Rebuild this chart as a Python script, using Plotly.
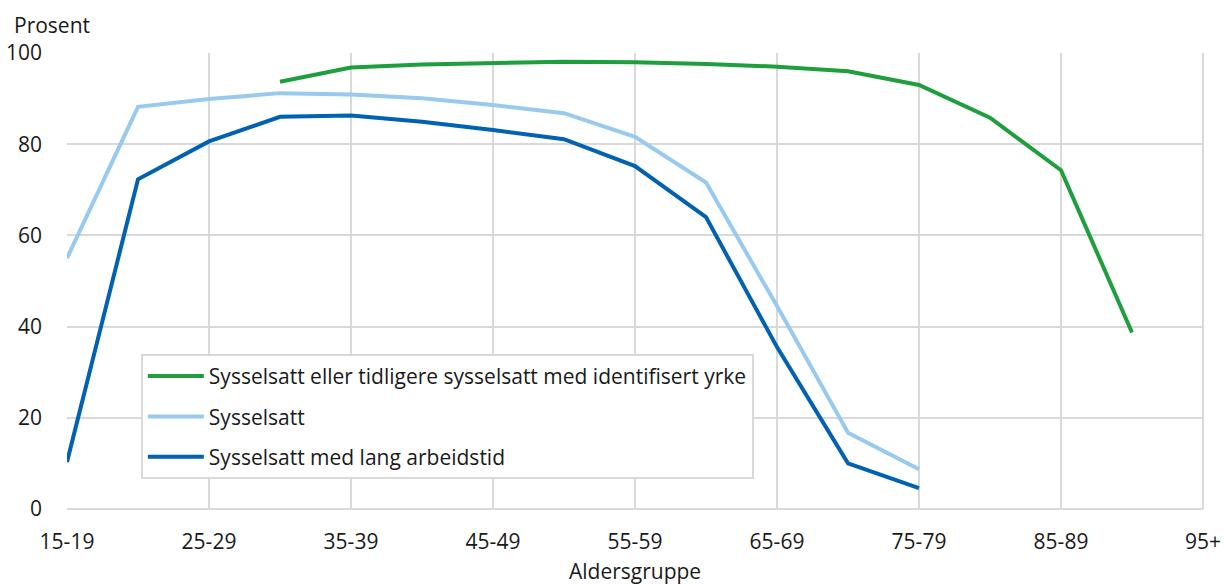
import plotly.graph_objects as go

aldersgrupper = ['15-19', '20-24', '25-29', '30-34', '35-39', '40-44', '45-49', '50-54',
                 '55-59', '60-64', '65-69', '70-74', '75-79', '80-84', '85-89', '90-94', '95+']
vis_ticks = ['15-19', '25-29', '35-39', '45-49', '55-59', '65-69', '75-79', '85-89', '95+']

# andel i prosent, None der serien mangler
yrke = [None, None, None, 93.7, 96.8, 97.5, 97.9, 98.1, 97.95, 97.6, 97.0, 96.0, 93.0,
        85.8, 74.3, 38.7, None]
sysselsatt = [55.0, 88.2, 89.9, 91.2, 90.9, 90.1, 88.6, 86.8, 81.6, 71.6, 44.5, 16.7, 8.7,
              None, None, None, None]
lang_arbeidstid = [10.3, 72.3, 80.6, 86.0, 86.3, 84.9, 83.1, 81.1, 75.2, 64.0, 35.5, 10.0, 4.6,
                   None, None, None, None]

grid = '#d9d9d9'
fnt = 'Open Sans'

fig = go.Figure()
fig.add_trace(go.Scatter(x=aldersgrupper, y=yrke, mode='lines', legendgroup='a',
                         name='Sysselsatt eller tidligere sysselsatt med identifisert yrke',
                         line=dict(color='#1f9e3d', width=4)))
fig.add_trace(go.Scatter(x=aldersgrupper, y=sysselsatt, mode='lines', legendgroup='b',
                         name='Sysselsatt', line=dict(color='#98c9ef', width=4)))
fig.add_trace(go.Scatter(x=aldersgrupper, y=lang_arbeidstid, mode='lines', legendgroup='c',
                         name='Sysselsatt med lang arbeidstid', line=dict(color='#0062b1', width=4)))

fig.update_layout(
    width=1225, height=585,
    margin=dict(l=67, r=22, t=53, b=76, autoexpand=False),
    plot_bgcolor='white', paper_bgcolor='white',
    font=dict(family=fnt, size=21, color='#1a1a1a'),
    legend=dict(x=0.065, y=0.34, xanchor='left', yanchor='top',
                bordercolor=grid, borderwidth=2, bgcolor='white',
                font=dict(size=21), tracegroupgap=10, itemwidth=56),
    xaxis=dict(type='category', categoryorder='array', categoryarray=aldersgrupper,
               range=[0, 16], tickvals=vis_ticks, ticktext=vis_ticks, automargin=False,
               showgrid=True, gridcolor=grid, gridwidth=2, ticks='', ticklabelstandoff=18,
               showline=False, zeroline=False),
    yaxis=dict(range=[0, 100], dtick=20, showgrid=True, gridcolor=grid, gridwidth=2,
               zeroline=True, zerolinecolor=grid, zerolinewidth=2, ticks='',
               ticklabelstandoff=24, automargin=False),
    annotations=[
        dict(text='Prosent', xref='paper', yref='paper', x=-0.0484, y=1.061,
             xanchor='left', yanchor='middle', showarrow=False, font=dict(size=21)),
        dict(text='Aldersgruppe', xref='paper', yref='paper', x=0.5, y=-0.137,
             xanchor='center', yanchor='middle', showarrow=False, font=dict(size=21)),
    ],
)
fig.add_shape(type='line', xref='paper', yref='paper', x0=1, x1=1, y0=0, y1=1,
              line=dict(color=grid, width=2), layer='below')

# fjern standardmargen i body slik at figuren fyller vinduet
fig.write_html('out.html', config={'displayModeBar': False},
               post_script="document.body.style.margin='0';document.body.style.overflow='hidden';")
